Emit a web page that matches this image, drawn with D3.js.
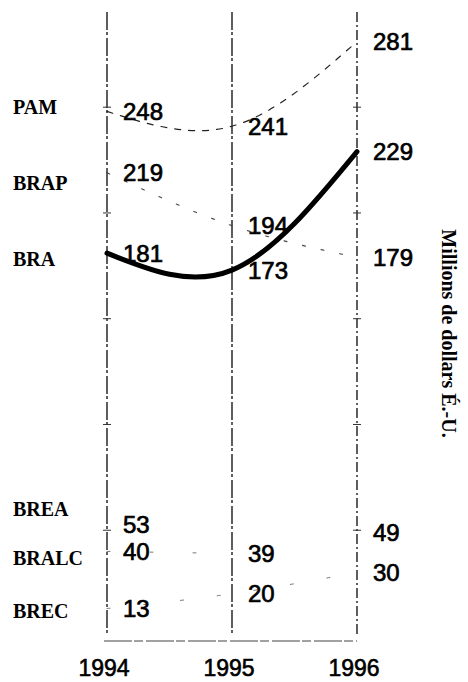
<!DOCTYPE html>
<html>
<head>
<meta charset="utf-8">
<script src="https://cdn.jsdelivr.net/npm/d3@7/dist/d3.min.js"></script>
<style>
  body { margin: 0; background: #fff; }
  svg { display: block; }
</style>
</head>
<body>
<div id="chart"></div>
<script>
// data
var years = [1994, 1995, 1996];
var series = ["PAM", "BRAP", "BRA", "BREA", "BRALC", "BREC"];
var pam   = [248, 241, 281];
var brap  = [219, 194, 179];
var bra   = [181, 173, 229];
var brea  = [53, null, 49];
var bralc = [40, 39, null];
var brec  = [13, 20, 30];
// where the series names sit on the value scale
var nameAt = [250, 214, 178, 60, 37, 12];
var ticks = [50, 100, 150, 200, 250];

var width = 468, height = 682;

var svg = d3.select("#chart")
  .append("svg")
    .attr("width", width)
    .attr("height", height);

var x = d3.scaleLinear()
  .domain([1994, 1996])
  .range([107, 357]);

var y = d3.scaleLinear()
  .domain([0, 295])
  .range([636, 12]);

// year columns
svg.append("g")
  .selectAll("line")
  .data(years)
  .enter()
  .append("line")
    .attr("x1", function(d){ return x(d); })
    .attr("x2", function(d){ return x(d); })
    .attr("y1", y(295))
    .attr("y2", y(0))
    .attr("stroke", "#1a1a1a")
    .attr("stroke-width", 1.4)
    .attr("stroke-dasharray", function(d, i){ return i == 2 ? "10,3,2,3" : "18,2,3,3"; });

// little cross ticks on the outer columns
[1994, 1996].forEach(function(yr){
  svg.append("g")
    .selectAll("line")
    .data(ticks)
    .enter()
    .append("line")
      .attr("x1", x(yr) - 4)
      .attr("x2", x(yr) + 4)
      .attr("y1", function(d){ return y(d); })
      .attr("y2", function(d){ return y(d); })
      .attr("stroke", "#333")
      .attr("stroke-width", 1);
});

// bottom axis
svg.append("line")
  .attr("x1", x(1994) - 3)
  .attr("x2", x(1996))
  .attr("y1", y(0) + 5)
  .attr("y2", y(0) + 5)
  .attr("stroke", "#444")
  .attr("stroke-width", 1.2)
  .attr("stroke-dasharray", "28,2,9,3");

svg.append("g")
  .selectAll("text")
  .data(years)
  .enter()
  .append("text")
    .text(function(d){ return d; })
    .attr("x", function(d){ return x(d) - 3; })
    .attr("y", 676)
    .attr("text-anchor", "middle")
    .style("font-family", "'Liberation Sans', Arial, sans-serif")
    .style("font-size", "23px")
    .style("fill", "#000")
    .style("stroke", "#000")
    .style("stroke-width", 0.6);

// curves
var line = d3.line()
  .defined(function(d){ return d != null; })
  .x(function(d, i){ return x(years[i]); })
  .y(function(d){ return y(d); })
  .curve(d3.curveNatural);

var styles = [
  {w: 1.2, dash: "6,8",  c: "#222"},
  {w: 1.1, dash: "3,16", c: "#444"},
  {w: 5,   dash: null,   c: "#000"},
  {w: 1,   dash: "3,40", c: "#777"},
  {w: 1,   dash: "3,40", c: "#777"},
  {w: 1,   dash: "3,34", c: "#777"}
];
var all = [pam, brap, bra, brea, bralc, brec];

all.forEach(function(vals, k){
  svg.append("path")
    .datum(vals)
    .attr("d", line)
    .attr("fill", "none")
    .attr("stroke", styles[k].c)
    .attr("stroke-width", styles[k].w)
    .attr("stroke-linecap", "round")
    .attr("stroke-dasharray", styles[k].dash);
});

// value labels beside each column
all.forEach(function(vals){
  svg.append("g")
    .selectAll("text")
    .data(vals.map(function(v, i){ return {v: v, yr: years[i]}; }).filter(function(d){ return d.v != null; }))
    .enter()
    .append("text")
      .text(function(d){ return d.v; })
      .attr("x", function(d){ return x(d.yr) + 16; })
      .attr("y", function(d){ return y(d.v); })
      .attr("dy", "0.36em")
      .style("font-family", "'Liberation Sans', Arial, sans-serif")
      .style("font-size", "24px")
      .style("fill", "#000")
      .style("stroke", "#000")
      .style("stroke-width", 0.7);
});

// series names on the left
svg.append("g")
  .selectAll("text")
  .data(series)
  .enter()
  .append("text")
    .text(function(d){ return d; })
    .attr("x", 13)
    .attr("y", function(d, i){ return y(nameAt[i]); })
    .attr("dy", "0.35em")
    .style("font-family", "'Liberation Serif', 'Times New Roman', serif")
    .style("font-weight", "bold")
    .style("font-size", "20px")
    .style("fill", "#000");

// unit title, right side
svg.append("text")
  .text("Millions de dollars É.-U.")
  .attr("transform", "translate(442," + y(143) + ") rotate(90)")
  .attr("text-anchor", "middle")
  .style("font-family", "'Liberation Serif', 'Times New Roman', serif")
  .style("font-weight", "bold")
  .style("font-size", "20px")
  .style("fill", "#000");
</script>
</body>
</html>
